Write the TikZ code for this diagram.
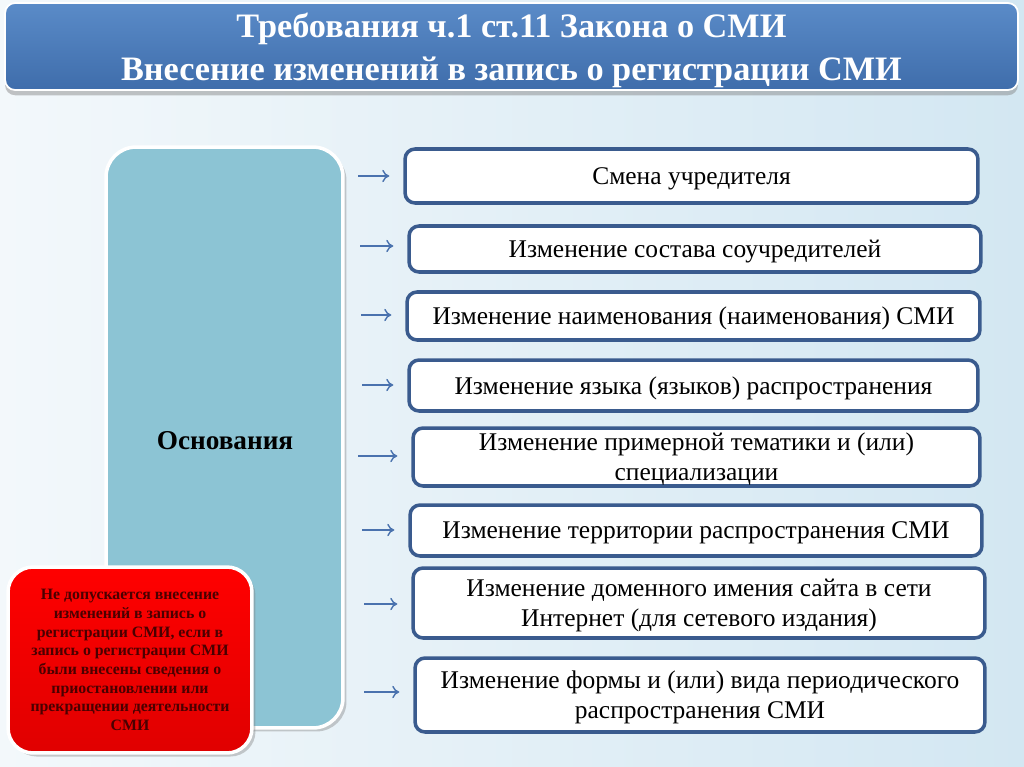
\documentclass[tikz,border=0pt]{standalone}
\usepackage{fontspec}
\setmainfont{Liberation Serif}
\newfontfamily\titlefont[FakeStretch=1.0]{Liberation Serif}
\usepackage{tikz}
\usetikzlibrary{positioning,shadows,arrows.meta}
\definecolor{bgleft}{HTML}{F3F8FB}
\definecolor{bgright}{HTML}{D3E7F2}
\definecolor{titletop}{HTML}{5A8BC8}
\definecolor{titlebot}{HTML}{3F6DAB}
\definecolor{basefill}{HTML}{8CC4D4}
\definecolor{itemline}{HTML}{3A5B8E}
\definecolor{arrowblue}{HTML}{4A72AE}
\definecolor{warnred}{HTML}{FF0000}
\definecolor{warnredbot}{HTML}{E00000}
\definecolor{warntext}{HTML}{4A0000}
\newcommand{\warnsize}{\fontsize{9}{10.6}\selectfont\bfseries}

\begin{document}
\begin{tikzpicture}[x=0.02cm,y=-0.02cm,
  item/.style={draw=itemline,line width=2pt,fill=white,rounded corners=0.2cm,
    align=center,inner sep=0pt,text depth=0pt,font=\fontsize{14.5}{17}\selectfont},
  arr/.style={-{To[length=4pt,width=7pt]},draw=arrowblue,line width=0.8pt,shorten >=0.28cm}]
  \useasboundingbox (0,0) rectangle (1024,767);
  \fill[left color=bgleft,right color=bgright] (0,0) rectangle (1024,767);

  \node (title) at (511.5,46.5) [draw=white,line width=1pt,rounded corners=0.2cm,
    top color=titletop,bottom color=titlebot,minimum width=20.26cm,minimum height=1.74cm,
    drop shadow={opacity=0.45,shadow xshift=0pt,shadow yshift=-3pt}] {};
  \node (titletext) at (511.5,50.5) [text=white,align=center,
    font=\titlefont\bfseries\fontsize{19.5}{24.4}\selectfont]
    {Требования ч.1 ст.11 Закона о СМИ\\Внесение изменений в запись о регистрации СМИ};

  \node (base) at (224.5,437.5) [draw=white,line width=2pt,rounded corners=0.6cm,fill=basefill,
    minimum width=4.74cm,minimum height=11.62cm,
    drop shadow={opacity=0.4,shadow xshift=2pt,shadow yshift=-2pt}] {};
  \node (basetext) at (225,441) {\fontsize{15.5}{18}\selectfont\bfseries Основания};

  \node (warn) at (130,660) [draw=white,line width=2pt,rounded corners=0.5cm,
    top color=warnred,bottom color=warnredbot,minimum width=4.88cm,minimum height=3.72cm,
    drop shadow={opacity=0.4,shadow xshift=2pt,shadow yshift=-2pt},
    text=warntext,align=center,font=\warnsize]
    {Не допускается внесение\\изменений в запись о\\регистрации СМИ, если в\\запись о регистрации СМИ\\были внесены сведения о\\приостановлении или\\прекращении деятельности\\СМИ};

  \node (b1) at (691.5,176) [item,minimum width=11.46cm,minimum height=1.08cm] {Смена учредителя};
  \node (b2) at (695,249) [item,minimum width=11.44cm,minimum height=0.92cm] {Изменение состава соучредителей};
  \node (b3) at (693.5,316) [item,minimum width=11.46cm,minimum height=0.96cm] {Изменение наименования (наименования) СМИ};
  \node (b4) at (693.5,385.5) [item,minimum width=11.38cm,minimum height=1.02cm] {Изменение языка (языков) распространения};
  \node (b5) at (696.5,457) [item,minimum width=11.34cm,minimum height=1.16cm] {Изменение примерной тематики и (или)\\специализации};
  \node (b6) at (696,530.5) [item,minimum width=11.44cm,minimum height=1.02cm] {Изменение территории распространения СМИ};
  \node (b7) at (699,603) [item,minimum width=11.44cm,minimum height=1.40cm] {Изменение доменного имения сайта в сети\\Интернет (для сетевого издания)};
  \node (b8) at (700,695) [item,minimum width=11.40cm,minimum height=1.48cm] {Изменение формы и (или) вида периодического\\распространения СМИ};

  \coordinate (a1) at (358,176);
  \coordinate (a2) at (360,246);
  \coordinate (a3) at (361,315);
  \coordinate (a4) at (362,385);
  \coordinate (a5) at (358,456);
  \coordinate (a6) at (362,530);
  \coordinate (a7) at (364,604);
  \coordinate (a8) at (364,692);

  \draw [arr] (a1) -- (a1 -| b1.west);
  \draw [arr] (a2) -- (a2 -| b2.west);
  \draw [arr] (a3) -- (a3 -| b3.west);
  \draw [arr] (a4) -- (a4 -| b4.west);
  \draw [arr] (a5) -- (a5 -| b5.west);
  \draw [arr] (a6) -- (a6 -| b6.west);
  \draw [arr] (a7) -- (a7 -| b7.west);
  \draw [arr] (a8) -- (a8 -| b8.west);
\end{tikzpicture}
\end{document}
